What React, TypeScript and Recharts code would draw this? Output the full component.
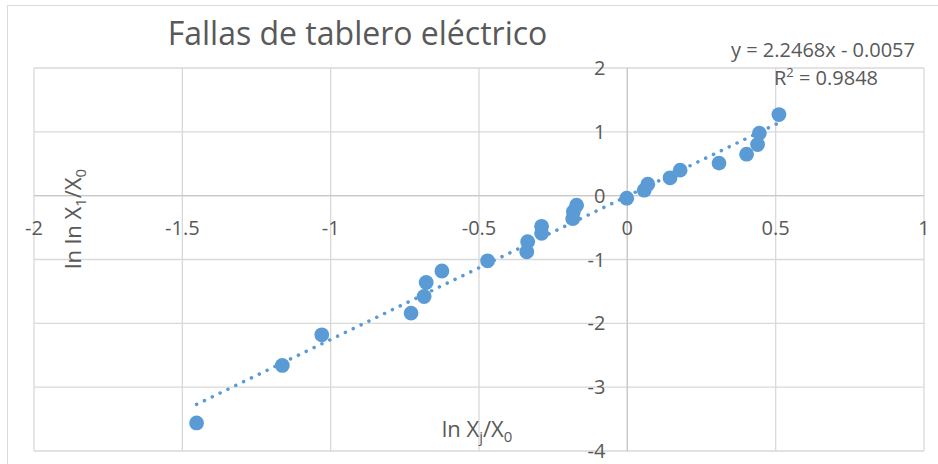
import { ScatterChart, Scatter, XAxis, YAxis, CartesianGrid, ReferenceLine, ReferenceDot } from 'recharts'

// ln Xj/X0 (horizontal) and ln ln X1/X0 (vertical)
const lnX = [
  -1.452, -1.163, -1.03, -0.729, -0.685, -0.678, -0.625, -0.471, -0.339, -0.336,
  -0.289, -0.289, -0.184, -0.182, -0.171, -0.002, 0.057, 0.069, 0.144, 0.178,
  0.309, 0.402, 0.439, 0.445, 0.511,
]
const lnLnY = [
  -3.56, -2.66, -2.18, -1.84, -1.58, -1.36, -1.18, -1.02, -0.88, -0.72,
  -0.59, -0.48, -0.36, -0.25, -0.15, -0.04, 0.086, 0.18, 0.28, 0.4,
  0.51, 0.65, 0.8, 0.98, 1.27,
]

// linear trendline end points (y = 2.2468x - 0.0057)
const trendX = [-1.452, 0.511]
const trendY = [-3.27, 1.142]

const xTicks = [-2, -1.5, -1, -0.5, 0, 0.5, 1]
const xTickLabels = ['-2', '-1.5', '-1', '-0.5', '0', '0.5', '1']
const yTicks = [-4, -3, -2, -1, 0, 1, 2]
const yTickLabels = ['-4', '-3', '-2', '-1', '0', '1', '2']

const points = lnX.map((x, i) => ({ x, y: lnLnY[i] }))
const trend = trendX.map((x, i) => ({ x, y: trendY[i] }))

const FONT = '"Open Sans", sans-serif'
const TEXT = '#595959'
const BLUE = '#5B9BD5'
const GRID = '#D9D9D9'

const Marker = (props: any) => <circle cx={props.cx} cy={props.cy} r={7.4} fill={BLUE} />
const NoMarker = () => <g />
// axes sit at the origin, so the edge ticks draw nothing (labels come from ReferenceDots)
const NoTick = () => <g />

export default function App() {
  return (
    <div
      style={{
        position: 'absolute',
        left: 0,
        top: 0,
        width: 938,
        height: 464,
        overflow: 'hidden',
        background: '#fff',
        fontFamily: FONT,
      }}
    >
      <div
        style={{
          position: 'absolute',
          left: 7,
          top: 5,
          width: 940,
          height: 470,
          borderLeft: `1.5px solid ${GRID}`,
          borderTop: `1.5px solid ${GRID}`,
        }}
      />
      <ScatterChart width={938} height={464} margin={{ top: 68, right: 14, bottom: 13, left: 34 }}>
        <CartesianGrid stroke={GRID} strokeWidth={1.3} />
        <XAxis
          type="number"
          dataKey="x"
          domain={[-2, 1]}
          ticks={xTicks}
          height={0}
          axisLine={false}
          tickLine={false}
          tick={NoTick}
        />
        <YAxis
          type="number"
          dataKey="y"
          domain={[-4, 2]}
          ticks={yTicks}
          width={0}
          axisLine={false}
          tickLine={false}
          tick={NoTick}
        />
        <ReferenceLine x={0} stroke="#C8C8C8" strokeWidth={1.3} />
        <ReferenceLine y={0} stroke="#C8C8C8" strokeWidth={1.3} />
        {xTicks.map((t, i) => (
          <ReferenceDot
            key={'xt' + t}
            x={t}
            y={0}
            r={0}
            fill="none"
            stroke="none"
            label={{ value: xTickLabels[i], position: 'bottom', offset: 25, fill: TEXT, fontSize: 20, fontFamily: FONT }}
          />
        ))}
        {yTicks.map((t, i) => (
          <ReferenceDot
            key={'yt' + t}
            x={0}
            y={t}
            r={0}
            fill="none"
            stroke="none"
            label={{ value: yTickLabels[i], position: 'left', offset: 22, fill: TEXT, fontSize: 20, fontFamily: FONT }}
          />
        ))}
        <Scatter data={points} shape={Marker} isAnimationActive={false} />
        <Scatter
          data={trend}
          shape={NoMarker}
          line={{ stroke: BLUE, strokeWidth: 3.5, strokeDasharray: '0.1 8.6', strokeLinecap: 'round' }}
          lineType="joint"
          isAnimationActive={false}
        />
      </ScatterChart>
      <svg
        width={938}
        height={464}
        style={{ position: 'absolute', left: 0, top: 0, pointerEvents: 'none' }}
        fontFamily={FONT}
        fill={TEXT}
      >
        <text x={357.5} y={45} textAnchor="middle" fontSize={32}>
          Fallas de tablero eléctrico
        </text>
        <text x={823} y={57} textAnchor="middle" fontSize={20}>
          y = 2.2468x - 0.0057
        </text>
        <text x={826} y={85} textAnchor="middle" fontSize={20}>
          R<tspan dy={-8} fontSize={13}>2</tspan>
          <tspan dy={8}> = 0.9848</tspan>
        </text>
        <text x={477} y={437} textAnchor="middle" fontSize={22}>
          ln X<tspan dy={5} fontSize={15}>j</tspan>
          <tspan dy={-5}>/X</tspan>
          <tspan dy={5} fontSize={15}>0</tspan>
        </text>
        <text transform="translate(81,219) rotate(-90)" textAnchor="middle" fontSize={22}>
          ln ln X<tspan dy={5} fontSize={15}>1</tspan>
          <tspan dy={-5}>/X</tspan>
          <tspan dy={5} fontSize={15}>0</tspan>
        </text>
      </svg>
    </div>
  )
}
